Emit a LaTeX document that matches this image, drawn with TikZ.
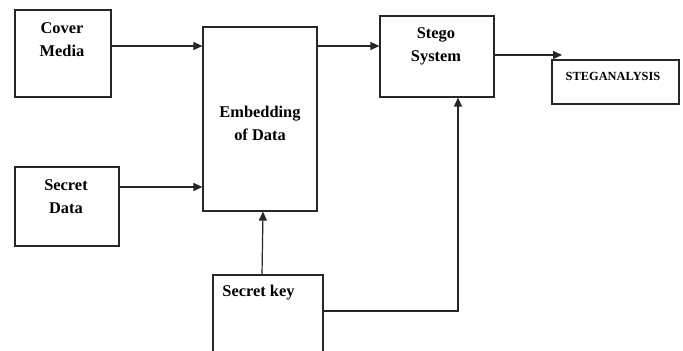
\documentclass[tikz,border=0pt]{standalone}
\usepackage{fontspec}
\setmainfont{Liberation Serif}
\usetikzlibrary{arrows.meta}
\begin{document}
\begin{tikzpicture}[x=0.5pt,y=-0.5pt,
  blk/.style={draw=black!85,line width=0.6pt,inner sep=0pt},
  lbl/.style={font=\bfseries\fontsize{8.2}{11.5}\selectfont,align=center,inner sep=0pt},
  conn/.style={draw=black!85,line width=0.6pt,-{Triangle[length=4.5pt,width=4pt]}}]
\useasboundingbox (0,0) rectangle (683,351);
% boxes
\node[blk,minimum width=48pt,minimum height=43.5pt] (cover) at (63,53.5) {};
\node[blk,minimum width=52pt,minimum height=39.5pt] (sdata) at (67,206.5) {};
\node[blk,minimum width=57pt,minimum height=92pt] (embed) at (260,119) {};
\node[blk,minimum width=55pt,minimum height=40pt] (skey) at (268,315) {};
\node[blk,minimum width=57pt,minimum height=40.5pt] (stego) at (437,56.5) {};
\node[blk,minimum width=63.5pt,minimum height=22pt] (stegan) at (615.5,82) {};
% labels
\node[lbl] (tcover) at (62,40) {Cover\\Media};
\node[lbl] (tsdata) at (66,197) {Secret\\Data};
\node[lbl] (tembed) at (260,123) {Embedding\\of Data};
\node[lbl,anchor=west] (tskey) at (222,293) {Secret key};
\node[lbl] (tstego) at (436,46) {Stego\\System};
\node[lbl,font=\bfseries\fontsize{6.2}{8}\selectfont] (tstegan) at (613,76) {STEGANALYSIS};
% connectors
\coordinate (c1) at (111,46);
\draw[conn] (cover.east |- c1) -- (embed.west |- c1);
\coordinate (c2) at (119,187);
\draw[conn] (sdata.east |- c2) -- (embed.west |- c2);
\draw[conn] ([xshift=-3pt]skey.north) -- ([xshift=1.5pt]embed.south);
\draw[conn] (embed.east |- c1) -- (stego.west |- c1);
\coordinate (c3) at (562,55);
\draw[conn] (stego.east |- c3) -- (c3);
\coordinate (c4) at (458,311);
\draw[conn] (skey.east |- c4) -- (c4) -- (c4 |- stego.south);
\end{tikzpicture}
\end{document}
